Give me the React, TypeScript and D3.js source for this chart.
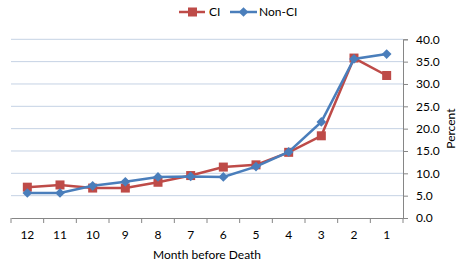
import { useEffect, useRef } from 'react'
import * as d3 from 'd3'

const months = ['12', '11', '10', '9', '8', '7', '6', '5', '4', '3', '2', '1']
const ciValues = [6.9, 7.4, 6.7, 6.7, 8.0, 9.5, 11.4, 11.9, 14.7, 18.4, 35.8, 31.9]
const nonCiValues = [5.6, 5.6, 7.2, 8.1, 9.2, 9.3, 9.2, 11.5, 14.8, 21.5, 35.6, 36.7]
const yTicks = [0, 5, 10, 15, 20, 25, 30, 35, 40]

const RED = '#BE4B48'
const BLUE = '#4A7EBB'
const FONT = 'Lato, "Open Sans", sans-serif'

export default function App() {
  const svgRef = useRef<SVGSVGElement>(null)

  useEffect(() => {
    const width = 467
    const height = 269
    const margin = { top: 39.3, right: 64, bottom: 51, left: 11 }

    const svg = d3.select(svgRef.current)
      .attr('width', width)
      .attr('height', height)
    svg.selectAll('*').remove()

    const x = d3.scaleBand()
      .domain(months)
      .range([margin.left, width - margin.right])

    const y = d3.scaleLinear()
      .domain([0, 40])
      .range([height - margin.bottom, margin.top])

    const g = svg.append('g')

    // gridlines
    g.selectAll('.grid')
      .data(yTicks.slice(1))
      .join('line')
      .attr('x1', margin.left)
      .attr('x2', width - margin.right)
      .attr('y1', d => y(d))
      .attr('y2', d => y(d))
      .attr('stroke', '#C5D2E4')
      .attr('stroke-width', 1)

    // Y axis on the right
    const yAxis = g.append('g')
      .attr('transform', `translate(${width - margin.right},0)`)
      .call(d3.axisRight(y).tickValues(yTicks).tickSize(5).tickPadding(8).tickFormat(d3.format('.1f')))
    yAxis.select('.domain').attr('stroke', '#868686')
    yAxis.selectAll('line').attr('stroke', '#868686')
    yAxis.selectAll('text')
      .attr('fill', '#000')
      .attr('font-size', 12)
      .attr('font-family', FONT)

    // X axis
    const xAxis = g.append('g')
      .attr('transform', `translate(0,${height - margin.bottom})`)
      .call(d3.axisBottom(x).tickSize(0).tickPadding(12))
    xAxis.select('.domain').attr('stroke', '#868686')
    xAxis.selectAll('text')
      .attr('fill', '#000')
      .attr('font-size', 12)
      .attr('font-family', FONT)
    // category boundary ticks
    g.selectAll('.xtick')
      .data(months.concat(['end']))
      .join('line')
      .attr('x1', (d, i) => margin.left + i * x.step())
      .attr('x2', (d, i) => margin.left + i * x.step())
      .attr('y1', height - margin.bottom)
      .attr('y2', height - margin.bottom + 5)
      .attr('stroke', '#868686')

    // Axis titles
    svg.append('text')
      .attr('x', (margin.left + width - margin.right) / 2)
      .attr('y', 259)
      .attr('text-anchor', 'middle')
      .attr('font-size', 12)
      .attr('font-family', FONT)
      .text('Month before Death')

    svg.append('text')
      .attr('transform', `translate(455,${(margin.top + height - margin.bottom) / 2}) rotate(-90)`)
      .attr('text-anchor', 'middle')
      .attr('font-size', 12)
      .attr('font-family', FONT)
      .text('Percent')

    const cx = (i: number) => (x(months[i]) as number) + x.bandwidth() / 2
    const line = d3.line<number>()
      .x((d, i) => cx(i))
      .y(d => y(d))

    // CI series
    g.append('path')
      .datum(ciValues)
      .attr('d', line)
      .attr('fill', 'none')
      .attr('stroke', RED)
      .attr('stroke-width', 2.5)
    g.selectAll('.ci')
      .data(ciValues)
      .join('rect')
      .attr('x', (d, i) => cx(i) - 4.5)
      .attr('y', d => y(d) - 4.5)
      .attr('width', 9)
      .attr('height', 9)
      .attr('fill', RED)

    // Non-CI series
    g.append('path')
      .datum(nonCiValues)
      .attr('d', line)
      .attr('fill', 'none')
      .attr('stroke', BLUE)
      .attr('stroke-width', 2.5)
    const diamond = d3.symbol().type(d3.symbolDiamond2).size(60)
    g.selectAll('.nonci')
      .data(nonCiValues)
      .join('path')
      .attr('transform', (d, i) => `translate(${cx(i)},${y(d)})`)
      .attr('d', diamond)
      .attr('fill', BLUE)

    // Legend
    const legend = svg.append('g').attr('transform', 'translate(0,12)')
    legend.append('line').attr('x1', 179).attr('x2', 205).attr('y1', 0).attr('y2', 0)
      .attr('stroke', RED).attr('stroke-width', 2.5)
    legend.append('rect').attr('x', 188).attr('y', -4.5).attr('width', 9).attr('height', 9).attr('fill', RED)
    legend.append('text').attr('x', 209).attr('y', 4).attr('font-size', 12).attr('font-family', FONT).text('CI')
    legend.append('line').attr('x1', 230).attr('x2', 257).attr('y1', 0).attr('y2', 0)
      .attr('stroke', BLUE).attr('stroke-width', 2.5)
    legend.append('path').attr('transform', 'translate(243.5,0)').attr('d', diamond).attr('fill', BLUE)
    legend.append('text').attr('x', 259).attr('y', 4).attr('font-size', 12).attr('font-family', FONT).text('Non-CI')
  }, [])

  return (
    <svg ref={svgRef} style={{ position: 'absolute', left: 0, top: 0, background: '#fff' }}></svg>
  )
}
